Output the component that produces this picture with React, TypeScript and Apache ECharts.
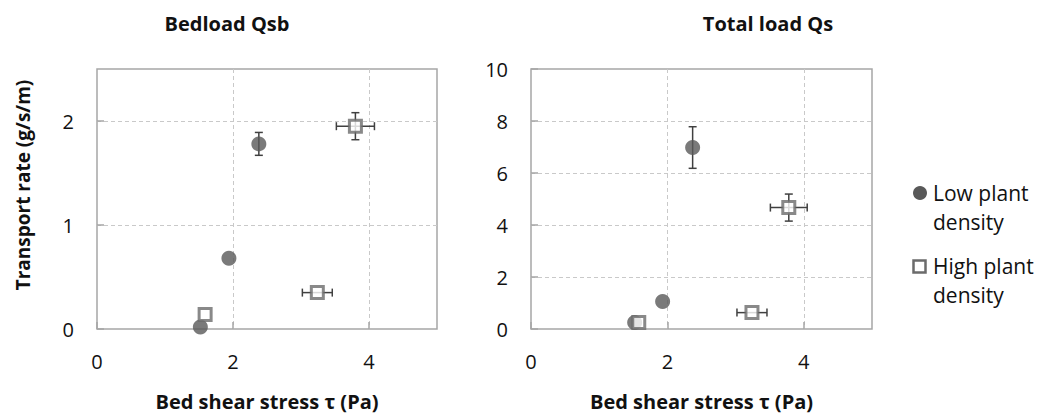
import React, { useEffect, useRef } from "react";
import * as echarts from "echarts";

// [shear stress, transport rate, x error, y error]
const bedloadLow: number[][] = [
  [1.52, 0.02, 0, 0],
  [1.94, 0.68, 0, 0],
  [2.38, 1.78, 0, 0.11],
];
const bedloadHigh: number[][] = [
  [1.59, 0.14, 0, 0],
  [3.24, 0.35, 0.22, 0],
  [3.8, 1.95, 0.28, 0.13],
];
const totalLow: number[][] = [
  [1.52, 0.25, 0, 0],
  [1.93, 1.06, 0, 0],
  [2.37, 6.98, 0, 0.8],
];
const totalHigh: number[][] = [
  [1.58, 0.25, 0, 0],
  [3.24, 0.63, 0.22, 0],
  [3.78, 4.67, 0.27, 0.52],
];

const titles = ["Bedload Qsb", "Total load Qs"];
const seriesNames = ["Low plant density", "High plant density"];
const legendLines = [
  ["Low plant", "density"],
  ["High plant", "density"],
];
const xAxisName = "Bed shear stress \u03c4 (Pa)";
const yAxisName = "Transport rate (g/s/m)";
const xRange = [0, 5, 2];
const yRangeLeft = [0, 2.5, 1];
const yRangeRight = [0, 10, 2];

const FONT = "'Open Sans', sans-serif";
const BORDER = "#a6a6a6";
const GRIDC = "#c9c9c9";
const DARK = "#595959";
const SQ = "#6b6b6b";
const ERR = "#404040";
const TXT = "#111111";

const errorRender = (params: any, api: any) => {
  const x = api.value(0);
  const y = api.value(1);
  const ex = api.value(2);
  const ey = api.value(3);
  const style = { stroke: ERR, lineWidth: 1.5 };
  const cap = 4;
  const children: any[] = [];
  if (ey > 0) {
    const t = api.coord([x, y + ey]);
    const b = api.coord([x, y - ey]);
    children.push({ type: "line", shape: { x1: t[0], y1: t[1], x2: b[0], y2: b[1] }, style });
    children.push({ type: "line", shape: { x1: t[0] - cap, y1: t[1], x2: t[0] + cap, y2: t[1] }, style });
    children.push({ type: "line", shape: { x1: b[0] - cap, y1: b[1], x2: b[0] + cap, y2: b[1] }, style });
  }
  if (ex > 0) {
    const l = api.coord([x - ex, y]);
    const r = api.coord([x + ex, y]);
    children.push({ type: "line", shape: { x1: l[0], y1: l[1], x2: r[0], y2: r[1] }, style });
    children.push({ type: "line", shape: { x1: l[0], y1: l[1] - cap, x2: l[0], y2: l[1] + cap }, style });
    children.push({ type: "line", shape: { x1: r[0], y1: r[1] - cap, x2: r[0], y2: r[1] + cap }, style });
  }
  return { type: "group", children };
};

const makeXAxis = (gridIndex: number) => ({
  type: "value",
  gridIndex,
  min: xRange[0],
  max: xRange[1],
  interval: xRange[2],
  name: xAxisName,
  nameLocation: "middle",
  nameGap: 62,
  nameTextStyle: { fontFamily: FONT, fontSize: 20, fontWeight: "bold", color: TXT },
  axisLine: { show: false },
  axisTick: { show: true, inside: true, length: 7, lineStyle: { color: BORDER, width: 1.5 } },
  axisLabel: { fontFamily: FONT, fontSize: 20, color: TXT, margin: 22, showMaxLabel: false },
  splitLine: {
    show: true,
    showMinLine: false,
    showMaxLine: false,
    lineStyle: { color: GRIDC, type: [4, 3], width: 1 },
  },
});

const makeYAxis = (gridIndex: number, range: number[], withName: boolean) => ({
  type: "value",
  gridIndex,
  min: range[0],
  max: range[1],
  interval: range[2],
  name: withName ? yAxisName : "",
  nameLocation: "middle",
  nameGap: 65,
  nameTextStyle: {
    fontFamily: FONT,
    fontSize: 19,
    fontWeight: "bold",
    color: TXT,
    padding: [0, 0, 0, 28],
  },
  axisLine: { show: false },
  axisTick: { show: true, inside: true, length: 7, lineStyle: { color: BORDER, width: 1.5 } },
  axisLabel: {
    fontFamily: FONT,
    fontSize: 20,
    color: TXT,
    margin: 23,
    showMaxLabel: range[1] % range[2] === 0,
  },
  splitLine: {
    show: true,
    showMinLine: false,
    showMaxLine: false,
    lineStyle: { color: GRIDC, type: [4, 3], width: 1 },
  },
});

const lowStyle = { color: DARK };
const highStyle = { color: "#ffffff", borderColor: SQ, borderWidth: 3 };

const makeSeries = (idx: number, low: number[][], high: number[][]) => [
  {
    type: "custom",
    xAxisIndex: idx,
    yAxisIndex: idx,
    renderItem: errorRender,
    data: low,
    encode: { x: 0, y: 1 },
    z: 1,
    silent: true,
  },
  {
    type: "custom",
    xAxisIndex: idx,
    yAxisIndex: idx,
    renderItem: errorRender,
    data: high,
    encode: { x: 0, y: 1 },
    z: 1,
    silent: true,
  },
  {
    name: seriesNames[0],
    type: "scatter",
    xAxisIndex: idx,
    yAxisIndex: idx,
    symbol: "circle",
    symbolSize: 15,
    itemStyle: lowStyle,
    data: low.map((d) => [d[0], d[1]]),
    z: 3,
  },
  {
    name: seriesNames[1],
    type: "scatter",
    xAxisIndex: idx,
    yAxisIndex: idx,
    symbol: "rect",
    symbolSize: 12,
    itemStyle: highStyle,
    data: high.map((d) => [d[0], d[1]]),
    z: 4,
  },
];

const legendText = (text: string, y: number) => ({
  type: "text",
  x: 933,
  y,
  style: {
    text,
    fontFamily: FONT,
    fontSize: 21,
    fill: TXT,
    textAlign: "left",
    textVerticalAlign: "middle",
    verticalAlign: "middle",
  },
});

export default function App() {
  const ref = useRef<HTMLDivElement>(null);
  useEffect(() => {
    if (!ref.current) return;
    const chart = echarts.init(ref.current, undefined, { renderer: "svg" });
    chart.setOption({
      animation: false,
      backgroundColor: "#ffffff",
      title: [
        {
          text: titles[0],
          left: 222,
          top: 8,
          textAlign: "center",
          textStyle: { fontFamily: FONT, fontSize: 20, fontWeight: "bold", color: TXT },
        },
        {
          text: titles[1],
          left: 763,
          top: 8,
          textAlign: "center",
          textStyle: { fontFamily: FONT, fontSize: 20, fontWeight: "bold", color: TXT },
        },
      ],
      graphic: [
        { type: "circle", shape: { cx: 920, cy: 193, r: 7 }, style: { fill: DARK } },
        legendText(legendLines[0][0], 193),
        legendText(legendLines[0][1], 222),
        {
          type: "rect",
          shape: { x: 913.5, y: 260.5, width: 12, height: 12 },
          style: { fill: "#ffffff", stroke: SQ, lineWidth: 2.5 },
        },
        legendText(legendLines[1][0], 266),
        legendText(legendLines[1][1], 295),
      ],
      grid: [
        { left: 97, top: 69, width: 340, height: 265, show: true, borderColor: BORDER, borderWidth: 1.5, backgroundColor: "transparent" },
        { left: 531, top: 69, width: 341, height: 265, show: true, borderColor: BORDER, borderWidth: 1.5, backgroundColor: "transparent" },
      ],
      xAxis: [makeXAxis(0), makeXAxis(1)],
      yAxis: [makeYAxis(0, yRangeLeft, true), makeYAxis(1, yRangeRight, false)],
      series: [...makeSeries(0, bedloadLow, bedloadHigh), ...makeSeries(1, totalLow, totalHigh)],
    });
    return () => chart.dispose();
  }, []);
  return (
    <div
      ref={ref}
      style={{ position: "fixed", left: 0, top: 0, width: 1041, height: 416, background: "#fff" }}
    />
  );
}
